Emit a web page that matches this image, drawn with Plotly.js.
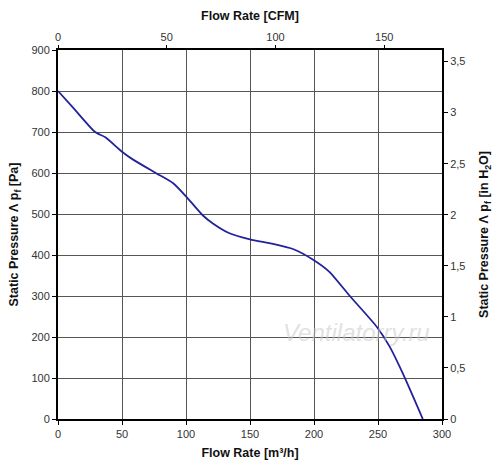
<!DOCTYPE html>
<html>
<head>
<meta charset="utf-8">
<script src="https://cdn.plot.ly/plotly-3.0.1.min.js"></script>
<style>html,body{margin:0;padding:0;background:#fff;}#chart{width:500px;height:470px;}</style>
</head>
<body>
<div id="chart"></div>
<script>
// Flow rate [m³/h]
const flowM3h = [0, 13, 29, 37, 50, 59, 77, 90, 100, 113, 121, 134, 150, 168, 184, 199, 212, 228, 249, 259, 270, 285];
// Static pressure [Pa]
const pressurePa = [800, 755, 700, 687, 652, 632, 599, 575, 543, 497, 477, 453, 438, 427, 414, 389, 359, 300, 225, 177, 107, 0];

const xTicksM3h = [0, 50, 100, 150, 200, 250, 300];
const yTicksPa = [0, 100, 200, 300, 400, 500, 600, 700, 800, 900];
const xTicksCFM = [0, 50, 100, 150];
const yTicksInH2O = [0, 0.5, 1, 1.5, 2, 2.5, 3, 3.5];

const M3H_PER_CFM = 1.699;
const PA_PER_INH2O = 249.089;

const tickFont = {family: 'Arial, Liberation Sans, sans-serif', size: 11, color: '#333'};
const titleFont = {family: 'Arial, Liberation Sans, sans-serif', size: 12.5, color: '#111', weight: 'bold'};

const traces = [{
  x: flowM3h, y: pressurePa, type: 'scatter', mode: 'lines',
  line: {color: '#22229a', width: 1.8, shape: 'spline', smoothing: 0.6},
  hoverinfo: 'skip', showlegend: false
}, {
  // same curve in CFM / in H2O, invisible, to carry the secondary axes
  x: flowM3h.map(v => v / M3H_PER_CFM), y: pressurePa.map(v => v / PA_PER_INH2O),
  xaxis: 'x2', yaxis: 'y2', type: 'scatter', mode: 'lines',
  line: {color: 'rgba(0,0,0,0)', width: 0}, opacity: 0,
  hoverinfo: 'skip', showlegend: false
}];

const layout = {
  width: 500, height: 470,
  margin: {l: 58, r: 58, t: 50, b: 51},
  paper_bgcolor: '#fff', plot_bgcolor: '#fff',
  separators: ', ',
  showlegend: false,
  xaxis: {
    range: [0, 300], tickvals: xTicksM3h, ticks: 'outside', ticklen: 4, tickcolor: '#000',
    showgrid: true, gridcolor: '#555', gridwidth: 1, zeroline: false,
    showline: true, linecolor: '#000', linewidth: 2, mirror: false,
    tickfont: tickFont, fixedrange: true,
    title: {text: '<b>Flow Rate [m³/h]</b>', font: titleFont, standoff: 9}
  },
  yaxis: {
    range: [0, 900], tickvals: yTicksPa, ticks: 'outside', ticklen: 4, tickcolor: '#000',
    showgrid: true, gridcolor: '#555', gridwidth: 1, zeroline: false,
    showline: true, linecolor: '#000', linewidth: 2,
    tickfont: tickFont, fixedrange: true,
    title: {text: '<b>Static Pressure Λ p<sub>f</sub> [Pa]</b>', font: titleFont, standoff: 10}
  },
  xaxis2: {
    overlaying: 'x', side: 'top', anchor: 'y',
    range: [0, 300 / M3H_PER_CFM], tickvals: xTicksCFM, ticks: 'outside', ticklen: 3, tickcolor: '#000',
    showgrid: false, zeroline: false, showline: true, linecolor: '#000', linewidth: 2,
    tickfont: tickFont, fixedrange: true,
    title: {text: '<b>Flow Rate [CFM]</b>', font: titleFont, standoff: 7}
  },
  yaxis2: {
    overlaying: 'y', side: 'right', anchor: 'x',
    range: [0, 900 / PA_PER_INH2O], tickvals: yTicksInH2O, ticks: 'outside', ticklen: 4, tickcolor: '#000',
    showgrid: false, zeroline: false, showline: true, linecolor: '#000', linewidth: 2,
    tickfont: tickFont, fixedrange: true,
    title: {text: '<b>Static Pressure Λ p<sub>f</sub> [in H<sub>2</sub>O]</b>', font: titleFont, standoff: 15}
  },
  annotations: [{
    text: '<i>Ventilatorry.ru</i>', xref: 'x', yref: 'y', x: 233, y: 210,
    showarrow: false, font: {family: 'Arial, Liberation Sans, sans-serif', size: 24, color: 'rgba(200,200,200,0.55)'}
  }]
};

Plotly.newPlot('chart', traces, layout, {staticPlot: true, displayModeBar: false});
</script>
</body>
</html>
